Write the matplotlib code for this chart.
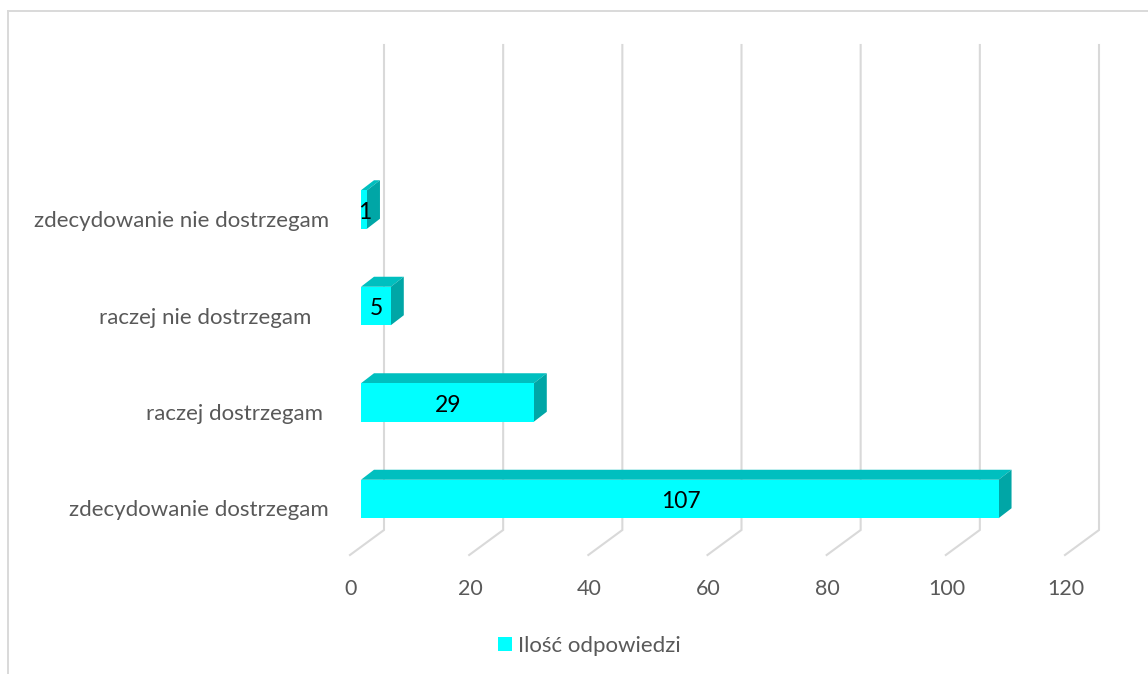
import matplotlib
matplotlib.use("Agg")
import matplotlib.pyplot as plt
from matplotlib.lines import Line2D
from matplotlib.patches import Polygon
from matplotlib.transforms import Affine2D

plt.rcParams['font.family'] = ['Lato', 'DejaVu Sans']

categories = ["zdecydowanie dostrzegam", "raczej dostrzegam ", "raczej nie dostrzegam   ", "zdecydowanie nie dostrzegam"]
values = [107, 29, 5, 1]
x_ticks = [0, 20, 40, 60, 80, 100, 120]
series_name = "Ilość odpowiedzi"

W, H = 1148, 674
GREY = "#D9D9D9"
TXT = "#595959"
FRONT, TOP, SIDE = "#00FFFF", "#00BFBF", "#00A6A6"

fig = plt.figure(figsize=(W / 100, H / 100), dpi=100, facecolor="white")

# pixel layout
left, right = 361, 1076
floor, ceil = 555, 45
ax = fig.add_axes([left / W, 1 - floor / H, (right - left) / W, (floor - ceil) / H])
ppx = (right - left) / 120
ppy = 96.5
ax.set_xlim(0, 120)
ax.set_ylim(-(floor - 499) / ppy, (499 - ceil) / ppy)
ax.patch.set_visible(False)
for s in ax.spines.values():
    s.set_visible(False)

dx, dy = 13 / ppx, 10 / ppy
h = 38.5 / ppy

# walls and floor gridlines
for t in x_ticks:
    gx0 = t - 11 / ppx
    gx1 = t + 23 / ppx
    yb = ax.get_ylim()[0]
    ax.plot([gx0, gx1, gx1], [yb, yb + 25 / ppy, ax.get_ylim()[1]], color=GREY, lw=1.5,
            zorder=1, clip_on=False, solid_joinstyle="miter")

ys = list(range(len(categories)))
bars = ax.barh(ys, values, height=h, color=FRONT, zorder=3, label=series_name, linewidth=0)
for y, v in zip(ys, values):
    t = y + h / 2
    b = y - h / 2
    ax.add_patch(Polygon([(0, t), (dx, t + dy), (v + dx, t + dy), (v, t)], closed=True, fc=TOP, lw=0, zorder=2, clip_on=False))
    ax.add_patch(Polygon([(v, b), (v + dx, b + dy), (v + dx, t + dy), (v, t)], closed=True, fc=SIDE, lw=0, zorder=2, clip_on=False))

for lab in ax.bar_label(bars, labels=[str(v) for v in values], label_type="center", color="black", fontsize=16.5, zorder=5):
    lab.xyann = (0.5, -2.0)

ax.set_yticks(ys, categories)
ax.set_xticks(x_ticks, [str(t) for t in x_ticks])
ax.tick_params(axis="both", length=0, labelcolor=TXT)
ax.tick_params(axis="y", pad=23, labelsize=16)
ax.tick_params(axis="x", pad=17.5, labelsize=15.5)
for lab in ax.get_xticklabels():
    lab.set_transform(lab.get_transform() + Affine2D().translate(-10, 0))
for lab in ax.get_yticklabels():
    lab.set_transform(lab.get_transform() + Affine2D().translate(0, -9.5))

leg = fig.legend(handles=[bars], labels=[series_name], loc="center", bbox_to_anchor=(589 / W, 1 - 646 / H),
                 frameon=False, fontsize=16, labelcolor=TXT, handlelength=0.63, handleheight=0.63,
                 handletextpad=0.28, borderpad=0, borderaxespad=0)

# chart frame (open at the bottom and on the right)
for xs, ys_ in [((7.5, 7.5), (H, 10.5)), ((7.5, W), (10.5, 10.5))]:
    fig.add_artist(Line2D([x / W for x in xs], [1 - y / H for y in ys_], color=GREY, lw=1.4, transform=fig.transFigure))

fig.savefig("out.png", dpi=100)
